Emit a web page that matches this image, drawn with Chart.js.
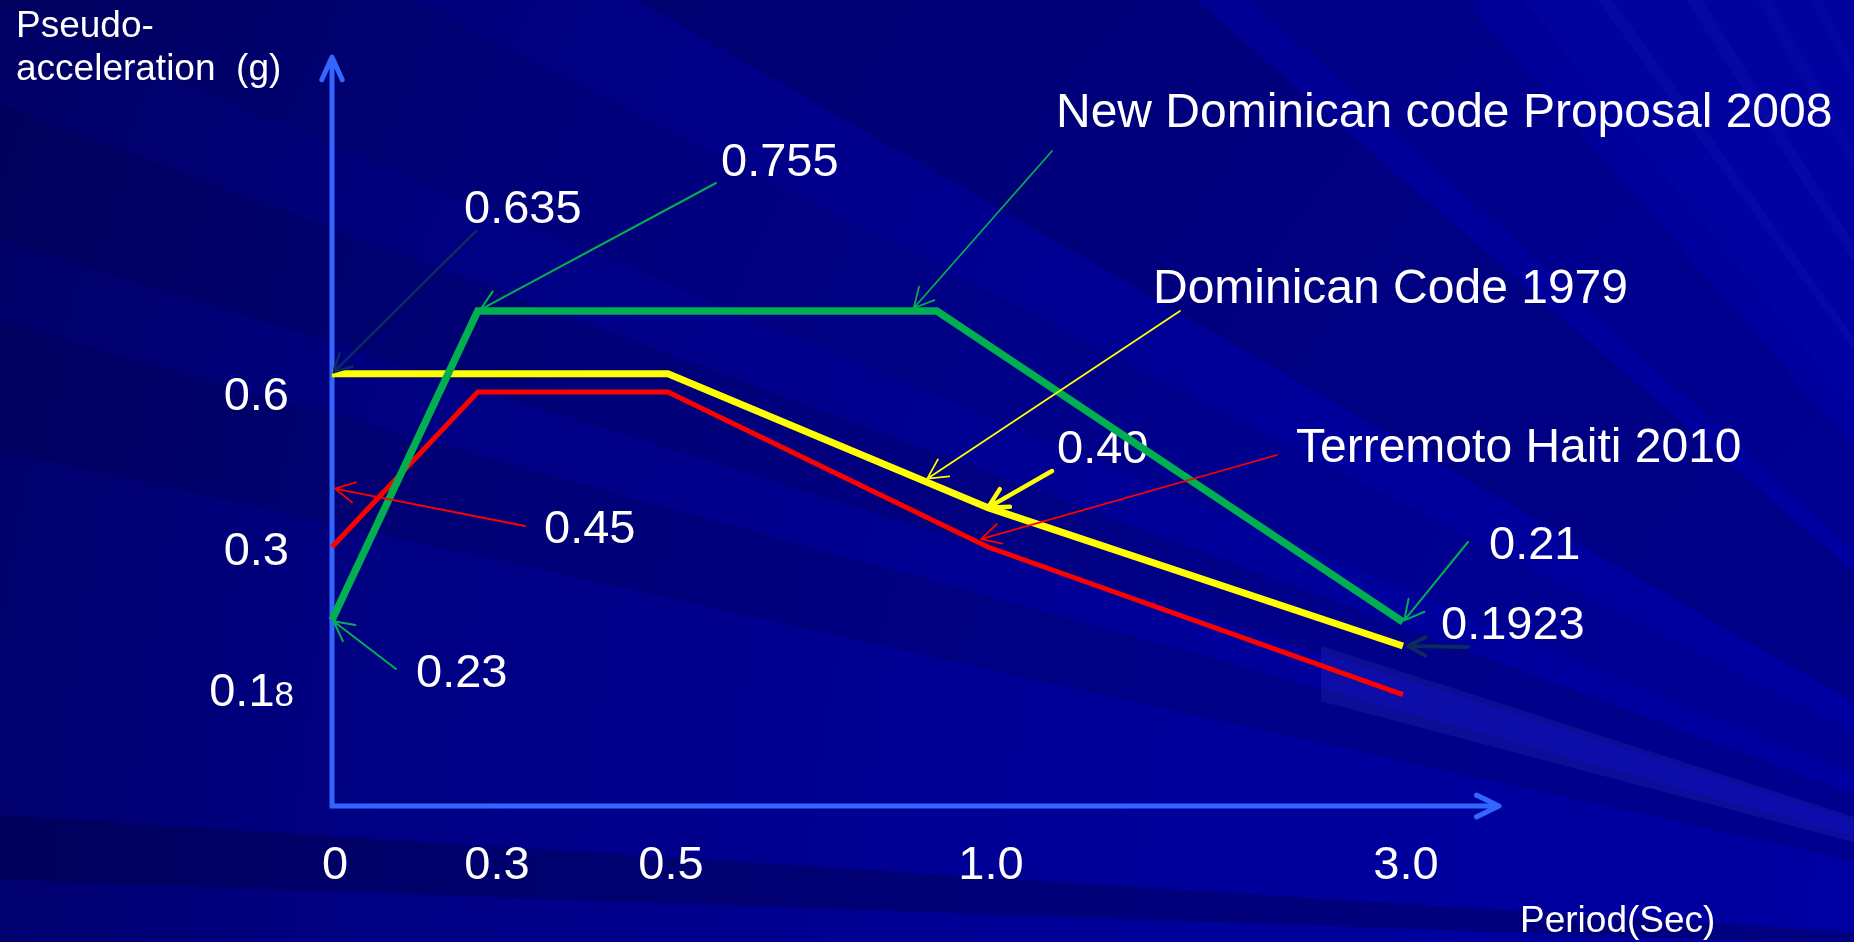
<!DOCTYPE html>
<html>
<head>
<meta charset="utf-8">
<title>Pseudo-acceleration spectra</title>
<script src="https://cdn.jsdelivr.net/npm/chart.js@4.4.1/dist/chart.umd.min.js"></script>
<style>
  html, body { margin: 0; padding: 0; background: #000078; overflow: hidden; }
  canvas { display: block; }
</style>
</head>
<body>
<canvas id="spectra" width="1854" height="942"></canvas>
<script>
// ---- values -------------------------------------------------------------
const periodTicks = [0, 0.3, 0.5, 1.0, 3.0];          // Period (s)
const accelTicks  = [0.18, 0.3, 0.6];                  // Pseudo-acceleration (g)

const proposal2008Period = [0, 0.27, 0.92, 3.0];
const proposal2008Accel  = [0.23, 0.755, 0.755, 0.21];

const code1979Period = [0, 0.5, 1.0, 3.0];
const code1979Accel  = [0.635, 0.635, 0.40, 0.1923];

const haiti2010Period = [0, 0.27, 0.5, 1.0, 3.0];
const haiti2010Accel  = [0.3, 0.6, 0.6, 0.3, 0.17];

const haitiMarkedLevel = 0.45;   // level pointed out on the acceleration axis

const seriesNames = ['New Dominican code Proposal 2008', 'Dominican Code 1979', 'Terremoto Haiti 2010'];

// ---- styles -------------------------------------------------------------
const GREEN = '#00B050', YELLOW = '#FFFF00', RED = '#FF0000';
const AXIS_BLUE = '#3366FF', NAVY = '#0B2A5E';
const FONT = '"Liberation Sans", Arial, Helvetica, sans-serif';

const SERIES = [
  { x: proposal2008Period, y: proposal2008Accel, color: GREEN,  width: 7.5 },
  { x: code1979Period,     y: code1979Accel,     color: YELLOW, width: 7 },
  { x: haiti2010Period,    y: haiti2010Accel,    color: RED,    width: 5 }
];

// ---- schematic (piecewise) axes ----------------------------------------
// Each break maps an axis value to a share of the axis length (0 = origin).
const periodBreaks = [[0, 0], [0.3, 0.1388], [0.5, 0.2879], [1.0, 0.5621], [3.0, 0.9177]];
const accelBreaks  = [[0, 0], [0.18, 0.1575], [0.1923, 0.2136], [0.21, 0.2457], [0.23, 0.2483],
                      [0.3, 0.3458], [0.45, 0.4246], [0.6, 0.5527], [0.755, 0.6609]];

function interpBreaks(breaks, v, from, to) {
  let i = 1;
  while (i < breaks.length - 1 && v > breaks[i][from]) i++;
  const a = breaks[i - 1], b = breaks[i];
  return a[to] + (v - a[from]) * (b[to] - a[to]) / (b[from] - a[from]);
}

function makeBrokenScale(id, breaks) {
  class BrokenScale extends Chart.LinearScale {
    getPixelForValue(value) {
      if (value === null || value === undefined || isNaN(value)) return NaN;
      return this.getPixelForDecimal(interpBreaks(breaks, value, 0, 1));
    }
    getValueForPixel(pixel) {
      return interpBreaks(breaks, this.getDecimalForPixel(pixel), 1, 0);
    }
  }
  BrokenScale.id = id;
  BrokenScale.defaults = Chart.LinearScale.defaults;
  return BrokenScale;
}
Chart.register(makeBrokenScale('periodAxis', periodBreaks), makeBrokenScale('accelAxis', accelBreaks));

// ---- helpers -------------------------------------------------------------
function pixelOf(chart, x, y) {
  return [chart.scales.x.getPixelForValue(x), chart.scales.y.getPixelForValue(y)];
}
function alongSeries(chart, s, period) {
  const xs = chart.scales.x, ys = chart.scales.y;
  const P = SERIES[s].x, A = SERIES[s].y;
  let i = 1;
  while (i < P.length - 1 && period > P[i]) i++;
  const x0 = xs.getPixelForValue(P[i - 1]), x1 = xs.getPixelForValue(P[i]);
  const y0 = ys.getPixelForValue(A[i - 1]), y1 = ys.getPixelForValue(A[i]);
  const x = xs.getPixelForValue(period);
  return [x, y0 + (x - x0) / (x1 - x0) * (y1 - y0)];
}
function drawArrow(ctx, x0, y0, x1, y1, color, width, head, gap) {
  const ang = Math.atan2(y1 - y0, x1 - x0);
  if (gap) { x1 -= Math.cos(ang) * gap; y1 -= Math.sin(ang) * gap; }
  const spread = Math.PI / 6.5;
  ctx.save();
  ctx.strokeStyle = color;
  ctx.lineWidth = width;
  ctx.lineCap = 'round';
  ctx.lineJoin = 'round';
  ctx.beginPath();
  ctx.moveTo(x0, y0);
  ctx.lineTo(x1, y1);
  ctx.moveTo(x1 - head * Math.cos(ang - spread), y1 - head * Math.sin(ang - spread));
  ctx.lineTo(x1, y1);
  ctx.lineTo(x1 - head * Math.cos(ang + spread), y1 - head * Math.sin(ang + spread));
  ctx.stroke();
  ctx.restore();
}

// ---- callouts: text, where it sits, arrow tail, and what the arrow points at
const callouts = [
  { text: code1979Accel[0].toFixed(3), at: [464, 223], tail: [476, 231],
    target: c => pixelOf(c, code1979Period[0], code1979Accel[0]), color: NAVY, width: 2.5, head: 20, gap: 2 },
  { text: proposal2008Accel[1].toFixed(3), at: [721, 176], tail: [716, 183],
    target: c => pixelOf(c, proposal2008Period[1], proposal2008Accel[1]), color: GREEN, width: 2, head: 22, gap: 3 },
  { text: seriesNames[0], at: [1056, 127], tail: [1052, 151], big: true,
    target: c => alongSeries(c, 0, 0.88), color: GREEN, width: 1.8, head: 22, gap: 4 },
  { text: seriesNames[1], at: [1153, 303], tail: [1180, 311], big: true,
    target: c => alongSeries(c, 1, 0.9), color: YELLOW, width: 1.8, head: 22, gap: 4 },
  { text: code1979Accel[2].toFixed(2), at: [1057, 463], tail: [1052, 471],
    target: c => pixelOf(c, code1979Period[2], code1979Accel[2]), color: YELLOW, width: 4.5, head: 22, gap: 0 },
  { text: seriesNames[2], at: [1296, 462], tail: [1277, 455], big: true,
    target: c => alongSeries(c, 2, 0.98), color: RED, width: 1.8, head: 22, gap: 6 },
  { text: haitiMarkedLevel.toFixed(2), at: [544, 543], tail: [525, 526],
    target: c => pixelOf(c, 0, haitiMarkedLevel), color: RED, width: 1.8, head: 22, gap: 3 },
  { text: proposal2008Accel[0].toFixed(2), at: [416, 687], tail: [396, 669],
    target: c => pixelOf(c, proposal2008Period[0], proposal2008Accel[0]), color: GREEN, width: 2, head: 22, gap: 2 },
  { text: proposal2008Accel[3].toFixed(2), at: [1489, 559], tail: [1468, 542],
    target: c => pixelOf(c, proposal2008Period[3], proposal2008Accel[3]), color: GREEN, width: 2, head: 22, gap: 2 },
  { text: code1979Accel[3].toFixed(4), at: [1441, 639], tail: [1468, 647],
    target: c => pixelOf(c, code1979Period[3], code1979Accel[3]), color: NAVY, width: 4, head: 20, gap: 5 }
];

// ---- slide backdrop: dark blue with soft rays fanning from the lower right
const RAY_CENTER = [2300, 960];
const rays = [
  // [from deg, to deg, colour]
  [-178.0, -176.4, 'rgba(0,0,40,0.28)'],
  [-167.5, -164.5, 'rgba(0,0,40,0.16)'],
  [-162.6, -159.6, 'rgba(0,0,40,0.16)'],
  [-157.5, -153, 'rgba(0,0,40,0.10)'],
  [-150, -139, 'rgba(0,0,35,0.20)'],
  [-137.5, -131, 'rgba(0,0,40,0.12)'],
  [-129, -114, 'rgba(20,20,200,0.10)'],
  [-126.2, -125.6, 'rgba(80,80,240,0.07)'],
  [-122.6, -121.9, 'rgba(80,80,240,0.07)'],
  [-119.5, -118.8, 'rgba(80,80,240,0.06)'],
  [-117.0, -116.5, 'rgba(80,80,240,0.05)']
];
function wedge(ctx, a0, a1, r) {
  const [cx, cy] = RAY_CENTER;
  ctx.beginPath();
  ctx.moveTo(cx, cy);
  ctx.lineTo(cx + r * Math.cos(a0 * Math.PI / 180), cy + r * Math.sin(a0 * Math.PI / 180));
  ctx.lineTo(cx + r * Math.cos(a1 * Math.PI / 180), cy + r * Math.sin(a1 * Math.PI / 180));
  ctx.closePath();
  ctx.fill();
}
const backdrop = {
  id: 'backdrop',
  beforeDraw(chart) {
    const { ctx, width: w, height: h } = chart;
    ctx.save();
    const [cx, cy] = RAY_CENTER;
    const g = ctx.createRadialGradient(cx, cy, 200, cx, cy, 2600);
    g.addColorStop(0, '#0000A6');
    g.addColorStop(0.4, '#00009A');
    g.addColorStop(0.72, '#000084');
    g.addColorStop(1, '#00005E');
    ctx.fillStyle = g;
    ctx.fillRect(0, 0, w, h);
    for (const [a0, a1, col] of rays) { ctx.fillStyle = col; wedge(ctx, a0, a1, 4000); }
    // pale streak in the lower right
    ctx.save();
    ctx.beginPath(); ctx.rect(1321, 0, w, h); ctx.clip();
    ctx.fillStyle = 'rgba(90,90,235,0.14)';
    wedge(ctx, -165.2, -162.2, 4000);
    ctx.restore();
    ctx.restore();
  }
};

// ---- axes with arrow heads, tick labels, axis titles and callout texts ----
function chevron(ctx, x, y, dx, dy, len, half) {
  // open arrow head at (x, y) pointing along (dx, dy)
  const ang = Math.atan2(dy, dx);
  ctx.beginPath();
  ctx.moveTo(x - len * Math.cos(ang - half), y - len * Math.sin(ang - half));
  ctx.lineTo(x, y);
  ctx.lineTo(x - len * Math.cos(ang + half), y - len * Math.sin(ang + half));
  ctx.stroke();
}
const frame = {
  id: 'frame',
  beforeDatasetsDraw(chart) {
    const { ctx, chartArea: a } = chart;
    const xs = chart.scales.x, ys = chart.scales.y;
    ctx.save();
    // axes
    ctx.strokeStyle = AXIS_BLUE;
    ctx.lineWidth = 5;
    ctx.lineCap = 'butt';
    ctx.beginPath();
    ctx.moveTo(a.left, a.bottom + 2.5);
    ctx.lineTo(a.left, a.top + 2);
    ctx.moveTo(a.left - 2.5, a.bottom);
    ctx.lineTo(a.right - 2, a.bottom);
    ctx.stroke();
    ctx.lineCap = 'round';
    ctx.lineJoin = 'round';
    chevron(ctx, a.left, a.top, 0, -1, 25, 0.42);
    chevron(ctx, a.right, a.bottom, 1, 0, 25, 0.45);

    ctx.fillStyle = '#FFFFFF';
    // period tick labels
    ctx.font = '47px ' + FONT;
    ctx.textAlign = 'center';
    ctx.textBaseline = 'alphabetic';
    for (const t of periodTicks) {
      ctx.fillText(t === 0 ? '0' : t.toFixed(1), xs.getPixelForValue(t) + 3, a.bottom + 73);
    }
    // acceleration tick labels (the last digit of 0.18 is set smaller)
    ctx.textAlign = 'left';
    const rightEdge = a.left - 38;
    for (const t of accelTicks) {
      const y = ys.getPixelForValue(t) + 18;
      const s = String(t);
      if (s.length > 3) {
        const head = s.slice(0, 3), tail = s.slice(3);
        ctx.font = '47px ' + FONT;
        const w1 = ctx.measureText(head).width;
        ctx.font = '35px ' + FONT;
        const w2 = ctx.measureText(tail).width;
        ctx.fillText(tail, rightEdge - w2, y);
        ctx.font = '47px ' + FONT;
        ctx.fillText(head, rightEdge - w2 - w1, y);
      } else {
        ctx.font = '47px ' + FONT;
        ctx.fillText(s, rightEdge - 5 - ctx.measureText(s).width, y);
      }
    }
    // axis titles
    ctx.font = '37px ' + FONT;
    ctx.fillText('Pseudo-', 16, 37);
    ctx.fillText('acceleration  (g)', 16, 80);
    ctx.fillText('Period(Sec)', 1520, 932);
    // callout texts
    for (const c of callouts) {
      ctx.font = (c.big ? '48px ' : '47px ') + FONT;
      ctx.fillText(c.text, c.at[0], c.at[1]);
    }
    ctx.restore();
  },
  afterDatasetsDraw(chart) {
    const { ctx } = chart;
    for (const c of callouts) {
      const [tx, ty] = c.target(chart);
      drawArrow(ctx, c.tail[0], c.tail[1], tx, ty, c.color, c.width, c.head, c.gap);
    }
  }
};

// ---- chart ---------------------------------------------------------------
const datasets = SERIES.map((s, i) => ({
  label: seriesNames[i],
  data: s.x.map((p, k) => ({ x: p, y: s.y[k] })),
  borderColor: s.color,
  backgroundColor: s.color,
  borderWidth: s.width,
  borderJoinStyle: 'miter',
  borderCapStyle: 'butt',
  pointRadius: 0,
  tension: 0,
  fill: false,
  clip: false
}));

new Chart(document.getElementById('spectra'), {
  type: 'line',
  data: { datasets },
  options: {
    responsive: false,
    animation: false,
    events: [],
    layout: { padding: { left: 332, right: 355, top: 57, bottom: 136 } },
    plugins: { legend: { display: false }, tooltip: { enabled: false } },
    scales: {
      x: { type: 'periodAxis', display: false },
      y: { type: 'accelAxis', display: false }
    }
  },
  plugins: [backdrop, frame]
});
</script>
</body>
</html>
